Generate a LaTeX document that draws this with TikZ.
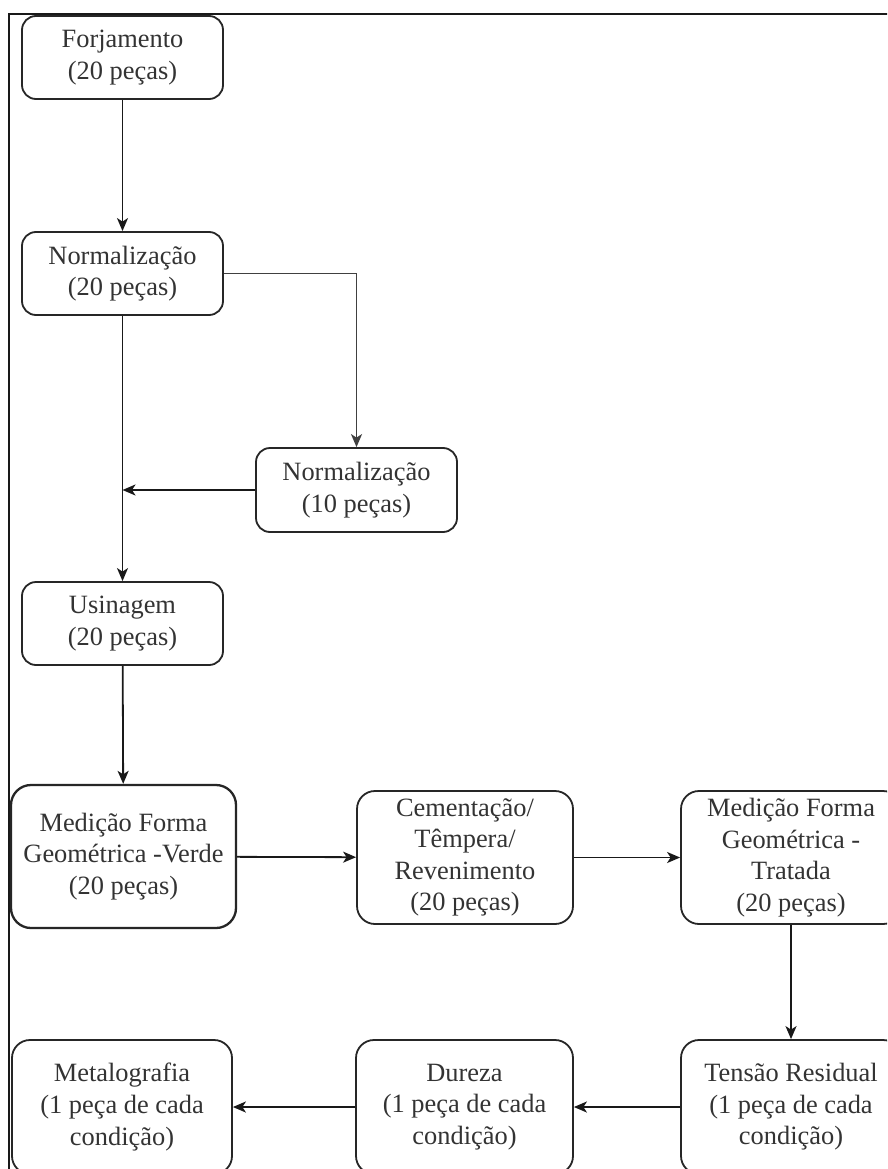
\documentclass[tikz,border=0pt]{standalone}
\usepackage{fontspec}
\setmainfont{Liberation Serif}
\usetikzlibrary{arrows.meta}
\begin{document}
\begin{tikzpicture}[x=1pt,y=-1pt,
  box/.style={draw=black!85, line width=1.8pt, rounded corners=14pt, align=center,
    text=black!80, font=\fontsize{26.4}{31.6}\selectfont, inner sep=0pt},
  arr/.style={draw=black!90, line width=1.8pt, -{Stealth[length=13pt,width=11pt,inset=3.5pt]}}]
\useasboundingbox (0,0) rectangle (887,1169);
\clip (0,0) rectangle (887,1169);
\fill[white] (0,0) rectangle (887,1169);
% frame
\draw[line width=2.6pt, black!90] (9,1175) -- (9,14) -- (895,14);
% nodes
\node[box, minimum width=201pt, minimum height=83pt] (forj) at (122.5,57.5) {Forjamento\\(20 peças)};
\node[box, minimum width=201pt, minimum height=83pt] (norma) at (122.5,273.5) {Normalização\\(20 peças)};
\node[box, minimum width=201pt, minimum height=84pt] (normb) at (356.5,490) {Normalização\\(10 peças)};
\node[box, minimum width=201pt, minimum height=83pt] (usin) at (122.5,623.5) {Usinagem\\(20 peças)};
\node[box, line width=2.3pt, rounded corners=20pt, minimum width=225pt, minimum height=143pt] (verde) at (123.5,856.5) {Medição Forma\\Geométrica -Verde\\(20 peças)};
\node[box, rounded corners=18pt, minimum width=216pt, minimum height=133pt] (cem) at (465,857.5) {Cementação/\\Têmpera/\\Revenimento\\(20 peças)};
\node[box, rounded corners=18pt, minimum width=220pt, minimum height=133pt] (trat) at (791,857.5) {Medição Forma\\Geométrica -\\Tratada\\(20 peças)};
\node[box, rounded corners=18pt, minimum width=220pt, minimum height=134pt] (tens) at (791,1107) {Tensão Residual\\(1 peça de cada\\condição)};
\node[box, rounded corners=18pt, minimum width=217pt, minimum height=134pt] (dur) at (464.5,1107) {Dureza\\(1 peça de cada\\condição)};
\node[box, rounded corners=18pt, minimum width=220pt, minimum height=134pt] (meta) at (122,1107) {Metalografia\\(1 peça de cada\\condição)};
% connectors
\draw[arr] (forj) -- (norma);
\draw[arr, draw=black!75] (norma.east) -| (normb.north);
\draw[arr] (norma) -- (usin);
\coordinate (join) at (normb.west -| norma.south);
\draw[arr] (normb.west) -- (join);
\draw[arr] (usin) -- (verde);
\draw[arr] (verde) -- (cem);
\draw[arr] (cem) -- (trat);
\draw[arr] (trat) -- (tens);
\draw[arr] (tens) -- (dur);
\draw[arr] (dur) -- (meta);
\end{tikzpicture}
\end{document}
